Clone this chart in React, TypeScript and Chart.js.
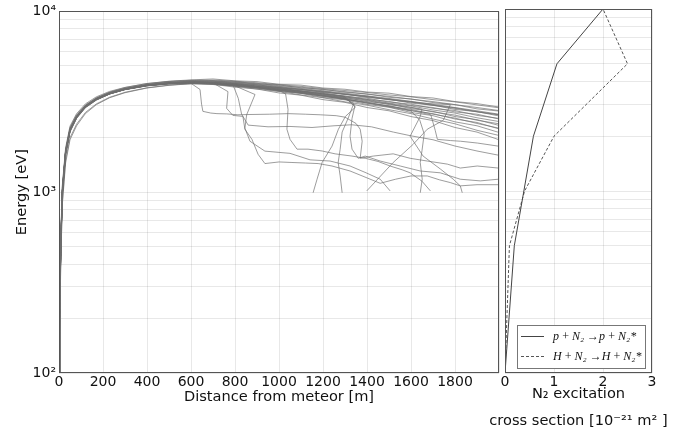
import React, { useEffect, useRef } from 'react';
import { Chart, registerables } from 'chart.js';

Chart.register(...registerables);

// ---------------- data: left panel (distance [m] vs energy [eV]) ----------------
const distM = [0, 3, 8, 15, 30, 50, 80, 120, 170, 230, 300, 400, 500, 600, 700, 800, 900, 1000, 1100, 1200, 1300, 1400, 1500, 1600, 1700, 1800, 1900, 2000];

const run01 = [100, 210, 520, 1020, 1700, 2250, 2650, 3020, 3330, 3580, 3790, 3990, 4110, 4180, 4230, 4130, 4090, 3950, 3910, 3770, 3710, 3580, 3530, 3380, 3320, 3170, 3090, 2960];
const run02 = [100, 190, 480, 980, 1640, 2200, 2620, 3000, 3300, 3560, 3760, 3960, 4090, 4150, 4130, 4100, 3970, 3920, 3780, 3710, 3570, 3500, 3350, 3280, 3130, 3050, 2890, 2810];
const run03 = [100, 220, 540, 1060, 1720, 2280, 2680, 3040, 3320, 3560, 3740, 3930, 4050, 4090, 4110, 3990, 3930, 3780, 3710, 3560, 3490, 3340, 3270, 3110, 3030, 2870, 2790, 2640];
const run04 = [100, 200, 500, 1000, 1660, 2210, 2600, 2970, 3260, 3510, 3710, 3900, 4010, 4080, 4040, 4000, 3850, 3780, 3630, 3550, 3390, 3310, 3150, 3070, 2910, 2830, 2660, 2560];
const run05 = [100, 180, 460, 950, 1600, 2150, 2560, 2930, 3230, 3490, 3700, 3890, 4000, 4060, 4020, 3950, 3830, 3730, 3600, 3500, 3360, 3260, 3110, 3000, 2850, 2740, 2580, 2460];
const run06 = [100, 205, 510, 1010, 1680, 2230, 2630, 3000, 3300, 3540, 3730, 3910, 4020, 4030, 4010, 3890, 3820, 3670, 3590, 3430, 3340, 3170, 3080, 2900, 2800, 2620, 2520, 2340];
const run07 = [100, 195, 490, 990, 1650, 2190, 2590, 2960, 3250, 3500, 3700, 3880, 3980, 4020, 3960, 3890, 3760, 3660, 3520, 3410, 3260, 3150, 2990, 2870, 2700, 2570, 2400, 2260];
const run08 = [100, 215, 530, 1040, 1700, 2240, 2640, 3010, 3290, 3530, 3720, 3900, 3990, 4010, 3990, 3860, 3780, 3610, 3520, 3340, 3240, 3060, 2950, 2760, 2650, 2450, 2330, 2140];
const run09 = [100, 190, 470, 960, 1620, 2170, 2570, 2940, 3240, 3490, 3690, 3870, 3970, 4000, 3940, 3860, 3720, 3610, 3450, 3330, 3160, 3030, 2860, 2720, 2540, 2390, 2200, 2060];
const run10 = [100, 200, 500, 1000, 1660, 2200, 2600, 2970, 3270, 3510, 3700, 3880, 3970, 3980, 3950, 3810, 3720, 3540, 3440, 3250, 3140, 2940, 2820, 2620, 2490, 2280, 2150, 1950];
const run11 = [100, 170, 420, 880, 1500, 2000, 2380, 2760, 3080, 3350, 3570, 3780, 3910, 3990, 4010, 3960, 3870, 3790, 3680, 3590, 3470, 3380, 3250, 3150, 3020, 2910, 2780, 2680];
const run12 = [100, 160, 400, 850, 1450, 1950, 2330, 2720, 3050, 3330, 3550, 3770, 3900, 3980, 3990, 3910, 3840, 3710, 3630, 3490, 3410, 3260, 3180, 3020, 2940, 2780, 2700, 2540];
const run13 = [100, 230, 560, 1090, 1760, 2320, 2720, 3080, 3370, 3610, 3800, 3990, 4100, 4160, 4170, 4110, 4030, 3930, 3850, 3740, 3650, 3560, 3450, 3370, 3250, 3160, 3040, 2930];
const run14 = [100, 200, 490, 990, 1660, 2210, 2610, 2990, 3280, 3530, 3720, 3920, 4040, 4110, 4120, 4050, 3960, 3850, 3750, 3640, 3530, 3410, 3300, 3180, 3060, 2940, 2820, 2700];
const run15 = [100, 185, 470, 970, 1630, 2180, 2580, 2950, 3250, 3500, 3700, 3890, 4000, 4040, 4000, 3930, 3800, 3700, 3570, 3460, 3310, 3210, 3050, 2940, 2780, 2670, 2500, 2390];
const run16 = [100, 210, 520, 1020, 1690, 2230, 2630, 2990, 3280, 3520, 3710, 3890, 3990, 4000, 3980, 3870, 3790, 3640, 3550, 3380, 3290, 3110, 3010, 2830, 2720, 2540, 2430, 2240];
const run17 = [100, 195, 480, 980, 1640, 2190, 2580, 2950, 3250, 3500, 3710, 3900, 4020, 4090, 4080, 4030, 3920, 3830, 3710, 3620, 3490, 3400, 3270, 3170, 3030, 2930, 2790, 2680];
const run18 = [100, 205, 505, 1005, 1670, 2220, 2620, 2990, 3290, 3540, 3740, 3930, 4050, 4120, 4130, 4060, 4000, 3880, 3810, 3690, 3600, 3480, 3390, 3270, 3170, 3050, 2940, 2830];

// trajectories that scatter away from the bundle: [distance m, energy eV]
const dev01 = [[0, 100], [3, 205], [8, 505], [15, 1010], [30, 1670], [50, 2210], [80, 2610], [120, 2990], [170, 3280], [230, 3530], [300, 3730], [400, 3910], [500, 4010], [600, 4000], [641, 3700], [648, 3070], [654, 2800], [690, 2740], [718, 2720], [763, 2710], [813, 2680], [868, 2690], [958, 2700], [1042, 2720], [1120, 2700], [1187, 2680], [1260, 2650], [1300, 2600], [1350, 2400], [1369, 2230], [1378, 1914], [1369, 1540], [1428, 1584], [1519, 1630], [1596, 1540], [1674, 1487], [1765, 1430], [1824, 1360], [1901, 1396], [1997, 1360]];
const dev02 = [[0, 100], [3, 185], [8, 470], [15, 970], [30, 1630], [50, 2180], [80, 2580], [120, 2960], [170, 3250], [230, 3500], [300, 3700], [400, 3890], [500, 4000], [600, 4060], [700, 4020], [768, 3600], [762, 2910], [790, 2660], [836, 2626], [845, 2230], [877, 1960], [905, 1620], [936, 1440], [1000, 1470], [1059, 1460], [1120, 1450], [1178, 1440], [1241, 1396], [1323, 1310], [1400, 1200], [1460, 1120], [1530, 1180], [1600, 1230], [1674, 1230], [1730, 1170], [1779, 1130], [1824, 1084], [1900, 1100], [1997, 1100]];
const dev03 = [[0, 100], [3, 200], [8, 500], [15, 1000], [30, 1655], [50, 2195], [80, 2595], [120, 2970], [170, 3260], [230, 3510], [300, 3710], [400, 3895], [500, 3990], [600, 4030], [700, 4000], [800, 3900], [900, 3780], [1000, 3660], [1030, 3500], [1041, 2870], [1036, 2230], [1050, 1960], [1082, 1730], [1132, 1730], [1196, 1690], [1255, 1630], [1332, 1584], [1392, 1540], [1450, 1480], [1505, 1396], [1560, 1330], [1596, 1280], [1650, 1150], [1688, 1017]];
const dev04 = [[0, 100], [3, 210], [8, 515], [15, 1015], [30, 1680], [50, 2225], [80, 2620], [120, 3000], [170, 3290], [230, 3540], [300, 3740], [400, 3920], [500, 4030], [600, 4080], [700, 4060], [800, 3980], [900, 3870], [1000, 3760], [1100, 3640], [1200, 3520], [1300, 3380], [1347, 2950], [1302, 2626], [1270, 2230], [1241, 1798], [1196, 1460], [1173, 1180], [1155, 993]];
const dev05 = [[0, 100], [3, 190], [8, 480], [15, 980], [30, 1640], [50, 2190], [80, 2590], [120, 2965], [170, 3255], [230, 3505], [300, 3705], [400, 3890], [500, 3995], [600, 4040], [700, 4010], [800, 3920], [900, 3800], [1000, 3690], [1100, 3570], [1200, 3440], [1300, 3290], [1340, 3100], [1314, 2560], [1287, 2150], [1278, 1730], [1269, 1460], [1278, 1230], [1287, 993]];
const dev06 = [[0, 100], [3, 200], [8, 495], [15, 995], [30, 1660], [50, 2205], [80, 2605], [120, 2980], [170, 3270], [230, 3520], [300, 3720], [400, 3905], [500, 4005], [600, 4050], [700, 4030], [800, 3950], [900, 3830], [1000, 3720], [1100, 3600], [1200, 3480], [1300, 3330], [1345, 3000], [1332, 2560], [1323, 2040], [1332, 1730], [1360, 1540], [1392, 1584], [1460, 1487], [1551, 1396], [1642, 1310], [1733, 1280], [1824, 1180], [1915, 1155], [1997, 1180]];
const dev07 = [[0, 100], [3, 195], [8, 485], [15, 985], [30, 1650], [50, 2200], [80, 2600], [120, 2975], [170, 3265], [230, 3515], [300, 3715], [400, 3900], [500, 4000], [600, 4060], [700, 4050], [800, 3990], [900, 3900], [1000, 3800], [1100, 3700], [1200, 3600], [1300, 3480], [1400, 3370], [1500, 3250], [1600, 3150], [1700, 3080], [1779, 3050], [1747, 2500], [1674, 2230], [1610, 1840], [1519, 1460], [1399, 1017]];
const dev08 = [[0, 100], [3, 205], [8, 500], [15, 1005], [30, 1665], [50, 2210], [80, 2610], [120, 2985], [170, 3275], [230, 3525], [300, 3725], [400, 3910], [500, 4015], [600, 4060], [700, 4040], [800, 3960], [900, 3850], [1000, 3740], [1100, 3620], [1200, 3500], [1300, 3370], [1400, 3230], [1500, 3090], [1600, 2950], [1650, 2880], [1642, 2626], [1596, 2040], [1655, 1584], [1733, 1345], [1792, 1180], [1824, 1084], [1833, 993]];
const dev09 = [[0, 100], [3, 190], [8, 475], [15, 975], [30, 1635], [50, 2185], [80, 2585], [120, 2960], [170, 3250], [230, 3500], [300, 3700], [400, 3885], [500, 3985], [600, 4020], [700, 3990], [800, 3900], [900, 3780], [1000, 3660], [1100, 3530], [1200, 3400], [1300, 3260], [1400, 3110], [1500, 2960], [1600, 2810], [1640, 2500], [1660, 2100], [1650, 1700], [1642, 1460], [1651, 1180], [1642, 993]];
const dev10 = [[0, 100], [3, 200], [8, 500], [15, 1000], [30, 1660], [50, 2200], [80, 2600], [120, 2975], [170, 3265], [230, 3515], [300, 3715], [400, 3900], [500, 4000], [600, 4040], [700, 4010], [800, 3920], [900, 3800], [1000, 3680], [1100, 3550], [1200, 3420], [1300, 3280], [1400, 3130], [1500, 2980], [1600, 2830], [1690, 2680], [1710, 2200], [1720, 1960], [1780, 1930], [1825, 1914], [1902, 1870], [1997, 1798]];
const dev11 = [[0, 100], [3, 195], [8, 490], [15, 990], [30, 1650], [50, 2195], [80, 2595], [120, 2970], [170, 3260], [230, 3510], [300, 3710], [400, 3895], [500, 3995], [600, 4030], [700, 3990], [800, 3870], [891, 3470], [853, 2680], [845, 2260], [868, 1914], [936, 1687], [1050, 1640], [1141, 1510], [1232, 1487], [1323, 1396], [1396, 1280], [1460, 1180], [1505, 1017]];
const dev12 = [[0, 100], [3, 205], [8, 510], [15, 1010], [30, 1670], [50, 2215], [80, 2615], [120, 2990], [170, 3280], [230, 3530], [300, 3730], [400, 3915], [500, 4020], [600, 4070], [700, 4050], [790, 3950], [815, 3300], [830, 2700], [860, 2350], [950, 2300], [1050, 2310], [1150, 2280], [1250, 2330], [1330, 2360], [1420, 2300], [1520, 2150], [1600, 2050], [1700, 1950], [1800, 1800], [1900, 1690], [2000, 1600]];

const bundleRuns = [run01, run02, run03, run04, run05, run06, run07, run08, run09, run10, run11, run12, run13, run14, run15, run16, run17, run18];
const scatterRuns = [dev01, dev02, dev03, dev04, dev05, dev06, dev07, dev08, dev09, dev10, dev11, dev12];

// ---------------- data: right panel (cross section vs energy) ----------------
const sigmaProton = [0, 0.19, 0.58, 1.06, 2.0];
const energyProton = [100, 500, 2000, 5000, 10000];
const sigmaHydrogen = [0, 0.09, 0.4, 1.0, 2.5, 2.0];
const energyHydrogen = [100, 500, 1000, 2000, 5000, 10000];
const legendLabels = ['p\u2009+\u2009N₂ →p\u2009+\u2009N₂*', 'H\u2009+\u2009N₂ →H\u2009+\u2009N₂*'];

// ---------------- axis ticks / titles ----------------
const energyTicks = [100, 200, 300, 400, 500, 600, 700, 800, 900, 1000, 2000, 3000, 4000, 5000, 6000, 7000, 8000, 9000, 10000];
const energyTickLabels: Record<number, string> = { 100: '10²', 1000: '10³', 10000: '10⁴' };
const xTitleLeft = 'Distance from meteor [m]';
const yTitleLeft = 'Energy [eV]';
const xTitleRight = ['N₂ excitation', 'cross section [10⁻²¹ m² ]'];

const W = 696;
const H = 436;
const FONT = 'DejaVu Sans';
const GRID = 'rgba(0,0,0,0.09)';
const FRAME = '#555';
const TRACE = 'rgba(110,110,110,0.68)';

const framePlugin = {
  id: 'frame',
  afterDatasetsDraw(chart: any) {
    const { ctx, chartArea } = chart;
    const l = Math.round(chartArea.left) + 0.5;
    const t = Math.round(chartArea.top) + 0.5;
    const r = Math.round(chartArea.right) - 0.5;
    const b = Math.round(chartArea.bottom) - 0.5;
    ctx.save();
    ctx.strokeStyle = FRAME;
    ctx.lineWidth = 1;
    ctx.strokeRect(l, t, r - l, b - t);
    ctx.restore();
  },
};

const rightDecor = {
  id: 'rightDecor',
  afterDraw(chart: any) {
    const { ctx, chartArea } = chart;
    ctx.save();
    // axis title (two lines)
    const cx = (chartArea.left + chartArea.right) / 2;
    ctx.fillStyle = '#111';
    ctx.font = `14.6px "${FONT}"`;
    ctx.textAlign = 'center';
    ctx.textBaseline = 'middle';
    ctx.fillText(xTitleRight[0], cx, 394);
    ctx.fillText(xTitleRight[1], cx, 421);
    // legend
    const bx = 517.5, by = 325.5, bw = 128, bh = 43;
    ctx.fillStyle = '#fff';
    ctx.fillRect(bx, by, bw, bh);
    ctx.strokeStyle = '#777';
    ctx.lineWidth = 1;
    ctx.strokeRect(bx, by, bw, bh);
    const rows = [
      { y: 336.5, dash: [] as number[], color: '#444' },
      { y: 356.5, dash: [3, 2], color: '#555' },
    ];
    rows.forEach((row, i) => {
      ctx.beginPath();
      ctx.setLineDash(row.dash);
      ctx.strokeStyle = row.color;
      ctx.moveTo(521, row.y);
      ctx.lineTo(544, row.y);
      ctx.stroke();
      ctx.setLineDash([]);
      ctx.fillStyle = '#111';
      ctx.font = 'italic 12px "Liberation Serif"';
      ctx.textAlign = 'left';
      ctx.textBaseline = 'middle';
      ctx.fillText(legendLabels[i], 553, row.y);
    });
    ctx.restore();
  },
};

const energyAxis = (showLabels: boolean, width: number) => ({
  type: 'logarithmic' as const,
  min: 100,
  max: 10000,
  afterBuildTicks: (scale: any) => {
    scale.ticks = energyTicks.map((v) => ({ value: v }));
  },
  afterFit: (scale: any) => {
    scale.width = width;
  },
  border: { display: false },
  grid: { color: GRID, drawTicks: false, lineWidth: 1 },
  ticks: {
    display: showLabels,
    autoSkip: false,
    padding: 3,
    color: '#111',
    font: { family: FONT, size: 14 },
    callback: (v: any) => energyTickLabels[Number(v)] ?? '',
  },
  title: showLabels
    ? { display: true, text: yTitleLeft, color: '#111', font: { family: FONT, size: 14.6 }, padding: { top: 13, bottom: 0 } }
    : { display: false },
});

export default function App() {
  const leftRef = useRef<HTMLCanvasElement>(null);
  const rightRef = useRef<HTMLCanvasElement>(null);

  useEffect(() => {
    const traceStyle = { showLine: true, borderColor: TRACE, borderWidth: 1, pointRadius: 0, fill: false, tension: 0 };
    const datasets: any[] = [
      ...bundleRuns.map((vals) => ({ ...traceStyle, data: distM.map((x, i) => ({ x, y: vals[i] })) })),
      ...scatterRuns.map((pts) => ({ ...traceStyle, data: pts.map((p) => ({ x: p[0], y: p[1] })) })),
    ];

    const left = new Chart(leftRef.current as HTMLCanvasElement, {
      type: 'scatter',
      data: { datasets },
      options: {
        animation: false,
        responsive: false,
        maintainAspectRatio: false,
        events: [],
        layout: { padding: { left: 0, top: 9, right: 197, bottom: 0 } },
        plugins: { legend: { display: false }, tooltip: { enabled: false } },
        scales: {
          x: {
            type: 'linear',
            min: 0,
            max: 2000,
            afterFit: (scale: any) => {
              scale.height = 63;
            },
            border: { display: false },
            grid: { color: GRID, drawTicks: false },
            ticks: {
              stepSize: 200,
              autoSkip: false,
              maxRotation: 0,
              padding: 1,
              color: '#111',
              font: { family: FONT, size: 14 },
              callback: (v: any) => (Number(v) === 2000 ? '' : String(v)),
            },
            title: { display: true, text: xTitleLeft, color: '#111', font: { family: FONT, size: 14.6 }, padding: { top: 0, bottom: 30 } },
          },
          y: energyAxis(true, 59) as any,
        },
      },
      plugins: [framePlugin],
    });

    const right = new Chart(rightRef.current as HTMLCanvasElement, {
      type: 'scatter',
      data: {
        datasets: [
          {
            data: sigmaProton.map((s, i) => ({ x: s, y: energyProton[i] })),
            showLine: true,
            borderColor: '#444',
            borderWidth: 1,
            pointRadius: 0,
            fill: false,
          },
          {
            data: sigmaHydrogen.map((s, i) => ({ x: s, y: energyHydrogen[i] })),
            showLine: true,
            borderColor: '#555',
            borderWidth: 1,
            borderDash: [3, 2],
            pointRadius: 0,
            fill: false,
          },
        ] as any,
      },
      options: {
        animation: false,
        responsive: false,
        maintainAspectRatio: false,
        events: [],
        layout: { padding: { left: 505, top: 9, right: 44, bottom: 0 } },
        plugins: { legend: { display: false }, tooltip: { enabled: false } },
        scales: {
          x: {
            type: 'linear',
            min: 0,
            max: 3,
            afterFit: (scale: any) => {
              scale.height = 63;
            },
            border: { display: false },
            grid: { color: GRID, drawTicks: false },
            ticks: {
              stepSize: 1,
              autoSkip: false,
              maxRotation: 0,
              padding: 1,
              color: '#111',
              font: { family: FONT, size: 14 },
              callback: (v: any) => String(v),
            },
          },
          y: energyAxis(false, 0) as any,
        },
      },
      plugins: [framePlugin, rightDecor],
    });

    return () => {
      left.destroy();
      right.destroy();
    };
  }, []);

  return (
    <div style={{ position: 'absolute', left: 0, top: 0, width: W, height: H, background: '#fff', overflow: 'hidden' }}>
      <canvas ref={leftRef} width={W} height={H} style={{ position: 'absolute', left: 0, top: 0, width: W, height: H }} />
      <canvas ref={rightRef} width={W} height={H} style={{ position: 'absolute', left: 0, top: 0, width: W, height: H }} />
    </div>
  );
}
